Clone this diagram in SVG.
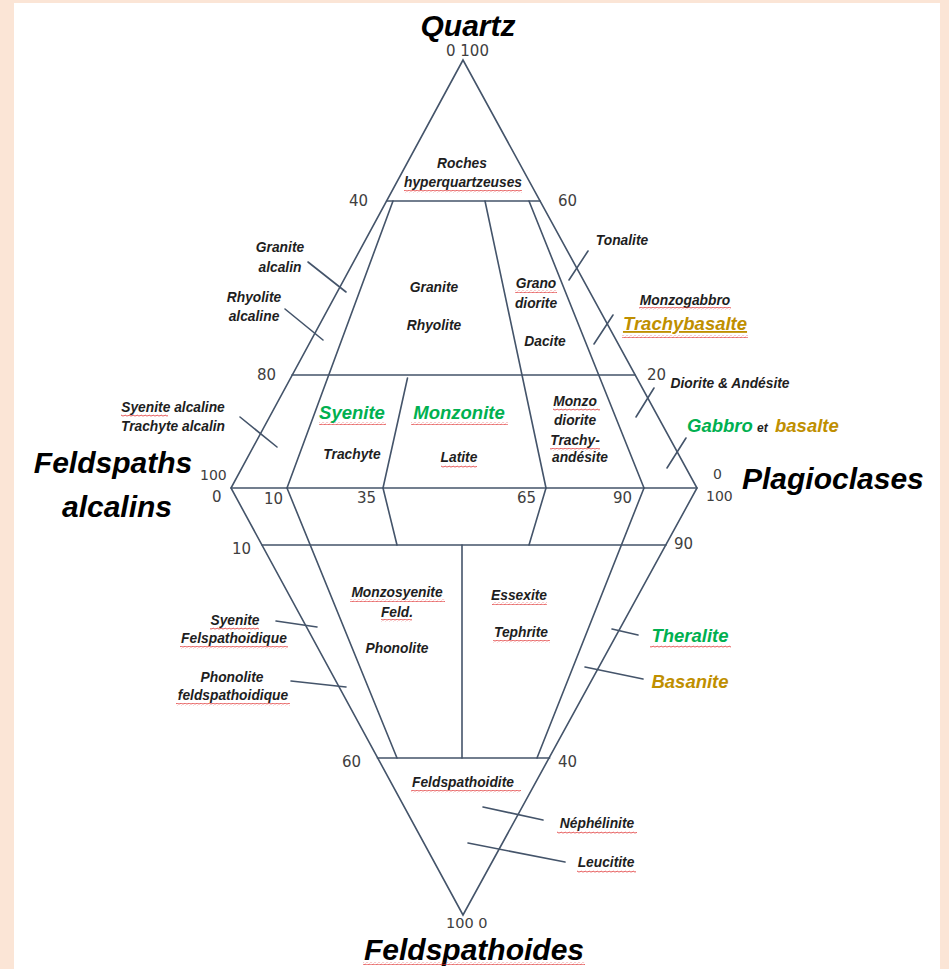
<svg xmlns="http://www.w3.org/2000/svg" width="949" height="969" viewBox="0 0 949 969">
<style>
.ln{stroke:#44546a;stroke-width:1.6;fill:none;stroke-linecap:round}
.big{font-family:"Liberation Sans",Arial,sans-serif;font-weight:bold;font-style:italic;font-size:30px;fill:#000}
.num{font-family:"DejaVu Sans",Verdana,sans-serif;font-size:15px;fill:#404040}
.lab{font-family:"Liberation Sans",Arial,sans-serif;font-weight:bold;font-style:italic;font-size:13.8px;fill:#1e1e1e;text-anchor:middle}
.col{font-family:"Liberation Sans",Arial,sans-serif;font-weight:bold;font-style:italic;font-size:18.5px}
.green{fill:#00b050}
.gold{fill:#bf8f00}
.wv{fill:url(#wave)}
</style>
<defs>
<pattern id="wave" patternUnits="userSpaceOnUse" width="4" height="3">
<path d="M0 2.2 Q1 0.2 2 1.5 T4 1.5" stroke="#e03030" stroke-width="0.8" fill="none"/>
</pattern>
</defs>
<rect x="0" y="0" width="949" height="969" fill="#fbe5d6"/>
<rect x="14" y="3" width="926" height="966" fill="#ffffff"/>

<g id="frame">
<path class="ln" d="M463 60 L231 488 L463 915 L697 488 Z"/>
<line class="ln" x1="386.6" y1="201" x2="540" y2="201"/>
<line class="ln" x1="292" y1="375" x2="635" y2="375"/>
<line class="ln" x1="231" y1="488" x2="697" y2="488"/>
<line class="ln" x1="262" y1="545" x2="666" y2="545"/>
<line class="ln" x1="377.4" y1="758" x2="549.7" y2="758"/>
<line class="ln" x1="393" y1="201" x2="287" y2="488"/>
<line class="ln" x1="407.5" y1="378" x2="383" y2="488"/>
<line class="ln" x1="485" y1="201" x2="546" y2="488"/>
<line class="ln" x1="529" y1="201" x2="644" y2="488"/>
<line class="ln" x1="287" y1="488" x2="397" y2="758"/>
<line class="ln" x1="383" y1="488" x2="397" y2="545"/>
<line class="ln" x1="546" y1="488" x2="529" y2="545"/>
<line class="ln" x1="462" y1="545" x2="462" y2="758"/>
<line class="ln" x1="644" y1="488" x2="537" y2="758"/>
</g>

<g id="connectors">
<line class="ln" x1="308" y1="262" x2="346" y2="292"/>
<line class="ln" x1="285" y1="309" x2="323" y2="340"/>
<line class="ln" x1="240" y1="417" x2="277" y2="447"/>
<line class="ln" x1="588" y1="251" x2="569" y2="280"/>
<line class="ln" x1="613" y1="315" x2="594" y2="344"/>
<line class="ln" x1="654" y1="388" x2="636" y2="417"/>
<line class="ln" x1="686" y1="438" x2="667" y2="468"/>
<line class="ln" x1="276" y1="621" x2="317" y2="627"/>
<line class="ln" x1="291" y1="681" x2="346" y2="687"/>
<line class="ln" x1="612" y1="629" x2="638" y2="635"/>
<line class="ln" x1="585" y1="667" x2="643" y2="679"/>
<line class="ln" x1="483" y1="807" x2="543" y2="820"/>
<line class="ln" x1="468" y1="843" x2="565" y2="862"/>
</g>

<g id="axis-labels">
<text class="big" x="468" y="36" text-anchor="middle">Quartz</text>
<text class="big" x="113" y="473" text-anchor="middle">Feldspaths</text>
<text class="big" x="117" y="517" text-anchor="middle">alcalins</text>
<text class="big" x="742" y="489">Plagioclases</text>
<text class="big" x="474" y="960" text-anchor="middle">Feldspathoides</text>
<rect class="wv" x="363" y="962" width="222" height="3"/>
</g>

<g id="scale-numbers">
<text class="num" x="446" y="56">0 100</text>
<text class="num" x="349" y="206">40</text>
<text class="num" x="558" y="206">60</text>
<text class="num" x="257" y="380">80</text>
<text class="num" x="647" y="380">20</text>
<text class="num" x="200" y="480" style="font-size:14px">100</text>
<text class="num" x="212" y="502">0</text>
<text class="num" x="264" y="504">10</text>
<text class="num" x="357" y="503">35</text>
<text class="num" x="517" y="503">65</text>
<text class="num" x="613" y="503">90</text>
<text class="num" x="713" y="479" style="font-size:14px">0</text>
<text class="num" x="706" y="501" style="font-size:14px">100</text>
<text class="num" x="232" y="554">10</text>
<text class="num" x="674" y="549">90</text>
<text class="num" x="342" y="767">60</text>
<text class="num" x="558" y="767">40</text>
<text class="num" x="446" y="928" style="font-size:14.5px">100 0</text>
</g>

<g id="roches-hyperquartzeuses">
<text class="lab" x="462" y="168">Roches</text>
<text class="lab" x="463" y="187">hyperquartzeuses</text>
<rect class="wv" x="404" y="190" width="118" height="3"/>
</g>

<g id="granite-alcalin">
<text class="lab" x="280" y="252">Granite</text>
<text class="lab" x="280" y="272">alcalin</text>
</g>

<g id="rhyolite-alcaline">
<text class="lab" x="254" y="302">Rhyolite</text>
<text class="lab" x="254" y="321">alcaline</text>
</g>

<g id="granite-rhyolite">
<text class="lab" x="434" y="292">Granite</text>
<text class="lab" x="434" y="330">Rhyolite</text>
</g>

<g id="syenite-alcaline">
<text class="lab" x="173" y="412">Syenite alcaline</text>
<text class="lab" x="173" y="431">Trachyte alcalin</text>
<rect class="wv" x="121" y="414" width="47" height="3"/>
</g>

<g id="syenite">
<text class="col green" x="352" y="419" text-anchor="middle">Syenite</text>
<rect class="wv" x="319" y="422" width="67" height="3"/>
<text class="lab" x="352" y="459">Trachyte</text>
</g>

<g id="monzonite">
<text class="col green" x="459" y="419" text-anchor="middle">Monzonite</text>
<rect class="wv" x="411" y="422" width="97" height="3"/>
<text class="lab" x="459" y="462">Latite</text>
<rect class="wv" x="441" y="465" width="36" height="3"/>
</g>

<g id="granodiorite">
<text class="lab" x="536" y="288">Grano</text>
<rect class="wv" x="515" y="290" width="42" height="3"/>
<text class="lab" x="536" y="308">diorite</text>
<text class="lab" x="545" y="346">Dacite</text>
</g>

<g id="tonalite">
<text class="lab" x="622" y="245">Tonalite</text>
</g>

<g id="monzogabbro">
<text class="lab" x="685" y="305">Monzogabbro</text>
<rect class="wv" x="639" y="307" width="92" height="3"/>
<text class="col gold" x="685" y="330" text-anchor="middle" text-decoration="underline">Trachybasalte</text>
<rect class="wv" x="622" y="335" width="126" height="3"/>
</g>

<g id="diorite-andesite">
<text class="lab" x="730" y="388">Diorite &amp; Andésite</text>
</g>

<g id="monzodiorite">
<text class="lab" x="575" y="406">Monzo</text>
<rect class="wv" x="553" y="408" width="47" height="3"/>
<text class="lab" x="575" y="425">diorite</text>
<text class="lab" x="575" y="445">Trachy-</text>
<rect class="wv" x="550" y="448" width="50" height="3"/>
<text class="lab" x="580" y="462">andésite</text>
</g>

<g id="gabbro-basalte">
<text class="col"><tspan class="green" x="687" y="432">Gabbro</tspan><tspan x="757" y="432" style="font-size:12px;fill:#1e1e1e">et</tspan><tspan class="gold" x="775" y="432">basalte</tspan></text>
</g>

<g id="monzosyenite">
<text class="lab" x="397" y="597">Monzosyenite</text>
<rect class="wv" x="350" y="599" width="95" height="3"/>
<text class="lab" x="397" y="617">Feld.</text>
<rect class="wv" x="381" y="619" width="31" height="3"/>
<text class="lab" x="397" y="653">Phonolite</text>
</g>

<g id="syenite-felspathoidique">
<text class="lab" x="235" y="625">Syenite</text>
<rect class="wv" x="210" y="627" width="49" height="3"/>
<text class="lab" x="234" y="643">Felspathoidique</text>
<rect class="wv" x="180" y="646" width="108" height="3"/>
</g>

<g id="phonolite-feldspathoidique">
<text class="lab" x="232" y="682">Phonolite</text>
<text class="lab" x="233" y="700">feldspathoidique</text>
<rect class="wv" x="176" y="703" width="114" height="3"/>
</g>

<g id="essexite">
<text class="lab" x="519" y="600">Essexite</text>
<rect class="wv" x="492" y="602" width="55" height="3"/>
<text class="lab" x="521" y="637">Tephrite</text>
<rect class="wv" x="493" y="640" width="57" height="3"/>
</g>

<g id="theralite">
<text class="col green" x="690" y="642" text-anchor="middle">Theralite</text>
<rect class="wv" x="650" y="645" width="81" height="3"/>
</g>

<g id="basanite">
<text class="col gold" x="690" y="688" text-anchor="middle">Basanite</text>
</g>

<g id="feldspathoidite">
<text class="lab" x="463" y="787">Feldspathoidite</text>
<rect class="wv" x="411" y="790" width="110" height="3"/>
</g>

<g id="nephelinite">
<text class="lab" x="597" y="828">Néphélinite</text>
<rect class="wv" x="557" y="831" width="80" height="3"/>
</g>

<g id="leucitite">
<text class="lab" x="606" y="867">Leucitite</text>
<rect class="wv" x="577" y="870" width="59" height="3"/>
</g>
</svg>
